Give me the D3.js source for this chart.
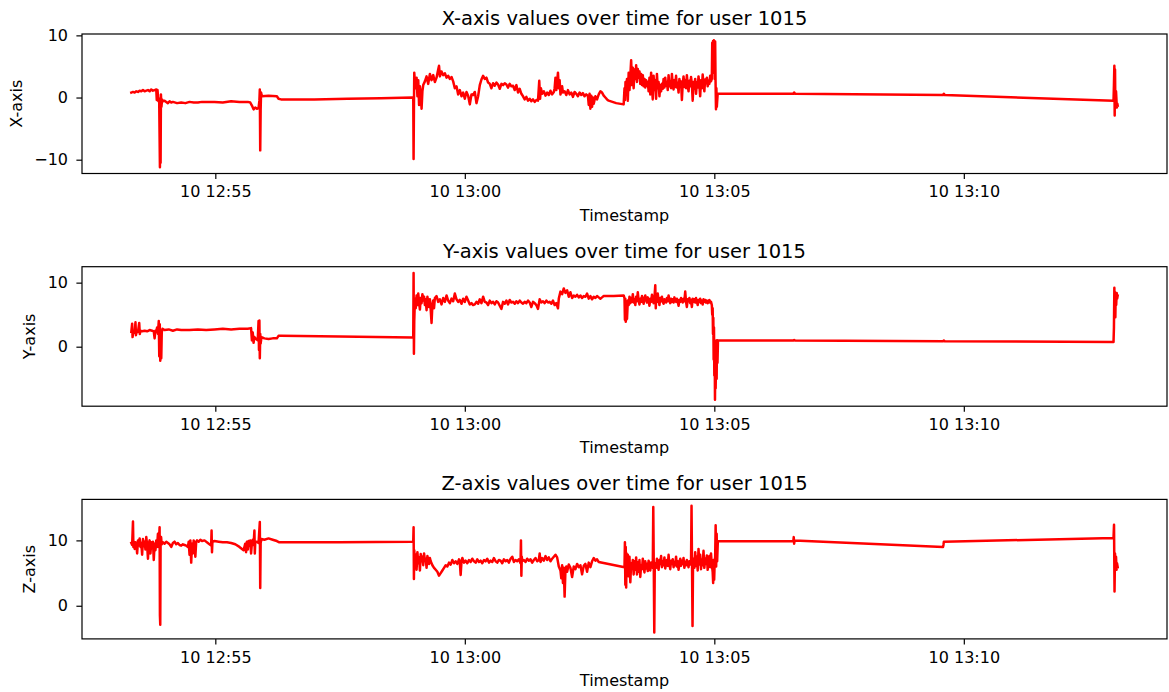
<!DOCTYPE html>
<html>
<head>
<meta charset="utf-8">
<script src="https://cdn.jsdelivr.net/npm/d3@7"></script>
<style>
  body { margin: 0; background: #fff; }
  svg text { font-family: "DejaVu Sans", "Liberation Sans", sans-serif; fill: #000; }
</style>
</head>
<body>
<svg id="chart" width="1169" height="692"></svg>
<script>
// Accelerometer readings for user 1015; each pair is [seconds since recording start, value].
const recordingStart = "2023-03-10 12:53:19";

const xReadings = [
  [0,0.8],[2,0.9],[4,0.8],[6,1.0],[8,0.9],[10,1.1],[12,1.0],[14,1.2],[16,1.0],[18,1.1],[20,1.2],[22,1.0],[24,1.3],[26,1.1],[28,1.2],[30,1.3],
  [30.6,-0.4],[31.5,1.2],[32.5,-0.6],[33.5,-0.2],[34.4,-11.2],[34.8,-3],[35.2,-10.5],[35.6,0.5],[36.2,-1.5],[37,-0.3],[38,-0.6],
  [40,-0.5],[42,-0.7],[44,-0.9],[46,-0.6],[48,-0.8],[50,-0.7],[55,-0.9],[60,-0.8],[65,-0.9],[70,-0.7],[75,-0.8],[80,-0.8],[85,-0.7],
  [90,-0.7],[100,-0.7],[110,-0.8],[120,-0.6],[130,-0.7],[140,-0.7],[143,-0.8],[145,-1.3],[147,-1.9],[149,-1.6],[151,-1.8],[153,-1.7],
  [154,-0.5],[154.5,1.3],[155,-8.5],[155.5,-2],[156,0.8],[157,0.2],[165,0.3],[175,0.2],[177,-0.2],[180,-0.3],[220,-0.3],[260,-0.2],
  [300,-0.1],[338,0],[339,0],[339.4,-9.9],[339.8,-2],[340.2,4.0],[341,2.5],
  [342,1.5],[343,3.2],[344,0.2],[345,2.8],[346,-1.2],[347,1.8],[348,0.5],[349,-1.8],[350,1.0],[351,2.0],
  [353,2.6],[355,3.4],[357,2.2],[359,3.8],[361,2.8],[363,3.6],[365,2.5],[367,3.2],[369,4.5],[370,5.1],
  [371,3.4],[373,4.2],[375,3.6],[377,3.9],[379,3.2],[381,3.5],[383,3.0],[385,3.3],[387,2.6],
  [389,1.5],[391,1.8],[393,0.5],[395,1.2],[397,0.2],[399,0.8],[401,-0.2],[403,0.9],[405,0.3],[407,-1.1],[409,0.5],[411,0.4],[413,0.9],[415,-0.9],[417,0.2],
  [419,2.0],[421,2.9],[423,3.5],[425,3.0],[427,3.2],[429,2.4],
  [431,2.2],[433,1.5],[435,2.3],[437,1.9],[439,2.4],[441,2.1],[443,1.4],[445,2.2],[447,2.0],[449,2.3],[451,2.1],[453,1.6],[455,2.2],[457,1.8],[459,1.9],[461,1.2],[463,2.0],[465,0.8],[467,1.4],
  [469,0.6],[471,0.2],[473,-0.3],[475,0.1],[477,-0.5],[479,-0.2],[481,-0.6],[483,-0.3],[485,-0.7],[487,-0.4],[489,-0.5],
  [490.5,2.7],[491.5,-0.2],[492.5,1.5],
  [494,0.6],[496,1.0],[498,0.3],[500,0.8],[502,0.4],[504,1.1],[506,0.5],[508,0.9],
  [509,1.5],[510,3.2],[511,1.2],[512,2.5],[513,4.0],[514,1.5],[515,2.8],[516,0.5],[518,1.8],[519,0.8],
  [521,1.0],[523,0.4],[525,1.2],[527,0.5],[529,0.8],[531,0.1],[533,0.9],[535,0.6],[537,0.2],[539,0.8],[541,0.4],[543,0.7],[545,0.2],[547,0.5],[549,0.3],
  [550,-1.2],[551,0.6],[552,-1.8],[553,0.3],[554,-1.5],[555,0.0],[556,-1.0],
  [558,0.2],[560,-0.3],[562,0.5],[564,1.0],[566,0.8],[568,0.3],[570,0.0],[572,-0.3],[574,-0.5],
  [583,-0.9],[592,-1.1],
  [593,1.5],[593.6,-0.4],[594.2,2.5],[595,0.5],[596,3.0],[597,-0.5],[598,4.0],[599,1.2],[600,3.5],[601,6.0],[602,2.0],[603,4.8],[604,1.5],
  [605,4.5],[606,3.0],[607,5.2],[608,2.5],[609,4.6],[610,3.2],[611,4.2],[612,2.2],[613,3.8],[614,2.0],[615,3.6],[616,1.8],[617,3.0],[618,1.6],[619,2.8],[620,1.9],[621,2.5],
  [622,1.0],[623,3.2],[624,0.5],[625,4.0],[626,1.5],[627,-0.3],[628,3.5],[629,1.2],[630,2.8],[631,-0.2],[632,3.8],[633,1.5],[634,2.5],[635,0.2],[636,2.0],[637,1.0],[638,2.2],[639,1.4],[640,3.0],
  [641,1.6],[642,3.2],[643,1.9],[644,2.5],[645,1.2],[646,3.6],[647,1.8],[648,2.6],[649,1.5],[650,3.8],[651,2.0],[652,1.3],[653,2.8],[654,1.7],[655,3.5],[656,1.6],[657,2.4],[658,0.8],[659,3.0],[660,1.9],
  [661,2.6],[662,-0.4],[663,2.2],[664,3.4],[665,1.7],[666,2.8],[667,1.5],[668,3.6],[669,2.0],[670,1.0],[671,2.7],[672,1.8],[673,3.3],[674,2.2],[675,-0.5],[676,2.5],[677,1.4],[678,3.0],[679,0.6],[680,2.4],
  [681,1.6],[682,3.4],[683,2.0],[684,0.2],[685,2.8],[686,1.5],[687,3.7],[688,2.1],[689,1.0],[690,2.9],[691,2.3],[692,3.2],[693,1.8],[694,2.7],[695,2.2],[696,3.5],[697,2.6],
  [698,3.0],[698.5,8.8],[699,4],[699.5,9.1],[700,6],[700.5,9.2],[701,8.8],[701.5,3],[702,9.0],[702.5,2.5],[703,-1.9],[703.5,1.5],[704,-1.5],[705,0.6],
  [705.6,0.6],[796,0.6],[797,0.8],[798,0.6],[976,0.4],[977,0.6],[978,0.4],[1181,-0.5],
  [1181.5,2.0],[1182,5.1],[1182.4,-2.9],[1182.8,4.5],[1183.2,-1.5],[1184,1.0],[1185,-1.6],[1185.6,-1.0],[1186,-1.3]
];

const yReadings = [
  [0,2.3],[1,3.6],[1.5,1.5],[2.5,2.4],[4,2.2],[5,3.8],[5.6,1.8],[6.5,2.5],[8,2.3],[9.5,3.7],[10.2,2.0],[11,2.5],[13,2.4],[16,2.5],[19,2.4],
  [22,2.6],[25,2.5],[27,2.4],[28,1.3],[29,2.5],[30,2.4],[31,3.0],[32,2.0],[33,4.0],[33.6,-1.5],[34.2,3.5],[34.8,-2.2],[35.4,2.0],[36,-1.8],
  [36.6,2.2],[37.5,2.8],[40,2.6],[45,2.7],[50,2.5],[55,2.7],[60,2.6],[70,2.6],[80,2.7],[90,2.6],[100,2.7],[110,2.8],[120,2.7],[130,2.8],
  [140,2.8],[144,2.9],[145,1.0],[146,2.2],[147,0.6],[148,1.5],[150,1.2],[152,1.0],[153,4.0],[153.5,-0.5],[154,4.1],[154.5,-1.8],[155,2.0],
  [155.5,0.5],[156.5,1.5],[160,1.3],[165,1.2],[170,1.3],[175,1.3],[177,1.7],[180,1.7],[250,1.6],[338,1.45],
  [339,1.5],[339.4,11.5],[339.8,-1.1],[340.2,4.0],[341,7.5],
  [342,6.0],[343,8.0],[344,6.5],[345,8.3],[346,7.0],[347,5.8],[348,7.6],[349,6.8],[350,8.2],[351,7.2],[352,7.8],[353,6.5],[354,7.4],[355,5.7],
  [356,7.8],[357,7.0],[358,6.2],[359,7.4],[360,5.8],[361,3.7],[362,6.5],[363,7.2],[364,6.0],[365,7.6],
  [367,7.9],[369,7.0],[371,7.4],[373,6.6],[375,7.6],[377,7.0],[379,8.0],[381,7.2],[383,6.8],[385,7.5],[387,7.1],[389,8.3],[391,7.4],[393,7.0],
  [395,7.3],[397,6.7],[399,7.5],[401,7.0],[403,7.8],[405,7.2],[407,6.6],[409,6.8],[411,6.5],[413,6.6],[415,7.0],[417,6.7],[419,7.4],[421,6.8],
  [423,7.8],[425,7.0],[427,6.9],[429,6.5],[431,7.2],[433,6.8],[435,7.0],[437,6.6],[439,7.1],[441,6.9],[443,6.4],[445,5.9],[447,7.0],[449,6.7],
  [451,7.2],[453,6.6],[455,7.3],[457,6.9],[459,7.0],[461,6.7],[463,7.1],[465,6.8],[467,7.2],[469,6.9],[471,6.7],[473,7.0],[475,6.8],[477,7.2],
  [479,6.9],[481,6.2],[483,7.0],[485,6.8],[487,6.5],[489,5.9],[491,7.4],
  [493,6.9],[495,7.1],[497,6.8],[499,7.2],[501,6.9],[503,7.0],[505,6.7],[507,7.2],[509,6.5],[511,6.8],[513,6.0],[514,7.5],[516,8.6],[518,8.2],
  [520,9.1],[522,8.4],[524,8.8],[526,7.8],[528,8.5],[530,7.6],[532,8.0],[534,7.8],[536,8.1],[538,7.7],[540,8.0],[542,7.6],[544,7.9],[546,7.8],
  [548,8.3],[550,7.5],[552,7.9],[554,7.4],[556,7.8],[558,7.6],[560,7.9],[562,7.7],[564,7.5],[566,7.7],[568,7.9],[580,7.9],[592,8.0],
  [593,7.6],[593.5,4.2],[594,7.5],[594.5,3.9],[595,6.8],[596,4.3],[597,7.2],[598,6.5],[599,7.8],
  [600,6.8],[601,7.6],[602,7.0],[603,8.2],[604,6.9],[605,7.4],[606,6.5],[607,7.8],[608,7.1],[609,8.5],[610,7.2],[611,6.6],[612,7.5],[613,7.0],
  [614,7.9],[615,7.2],[616,6.7],[617,7.6],[618,8.0],[619,7.3],[620,6.9],[621,7.7],[622,7.2],[623,6.4],[624,7.5],[625,7.0],[626,8.1],[627,7.3],
  [628,6.8],[629,7.6],[630,9.6],[630.6,6.0],[631,7.4],[632,7.0],[633,8.3],[634,7.2],[635,6.5],[636,7.6],[637,7.1],[638,7.8],[639,7.0],[640,6.7],
  [641,7.4],[642,7.2],[643,6.9],[644,7.6],[645,7.1],[646,8.0],[647,7.3],[648,6.8],[649,7.5],[650,7.0],[651,7.4],[652,6.9],[653,7.7],[654,7.2],
  [655,7.0],[656,7.5],[657,7.1],[658,6.4],[659,7.3],[660,7.0],[661,7.6],[662,7.2],[663,6.9],[664,7.5],[665,7.1],[666,8.6],[667,7.0],[668,6.2],
  [669,7.4],[670,7.1],[671,7.6],[672,6.8],[673,7.3],[674,6.2],[675,7.5],[676,7.0],[677,7.4],[678,6.9],[679,7.6],[680,7.1],[681,6.5],[682,7.3],
  [683,7.0],[684,7.5],[685,6.8],[686,7.2],[687,6.6],[688,7.4],[689,7.0],[690,7.3],[691,6.9],[692,7.2],[693,6.8],[694,7.1],[695,7.3],[696,6.9],
  [697,7.0],[698,6.5],[698.5,5.0],[699,6.0],[699.4,2.0],[699.8,4.5],[700.2,-2.0],[700.6,3.0],[701,-4.5],[701.4,1.0],[701.8,-8.3],[702.2,-1.0],
  [702.6,-6.5],[703,-3.0],[703.4,0.5],[703.8,-5.0],[704.2,1.0],[704.8,-2.5],[705.4,0.95],
  [706,0.95],[796,0.95],[797,1.05],[798,0.95],[976,0.85],[977,0.95],[978,0.85],[1181,0.73],
  [1181.5,3.0],[1182,9.2],[1182.4,5.0],[1182.8,8.5],[1183.2,4.6],[1183.6,8.3],[1184.2,6.5],[1184.8,8.4],[1185.4,7.5],[1186,8.0]
];

const zReadings = [
  [0,9.6],[1,9.3],[2,12.9],[2.5,9.0],[3,9.8],[4,8.7],[5,9.7],[6,9.4],[7,8.0],[8,10.0],[9,9.2],[10,10.3],[11,9.0],[12,9.6],[13,7.8],[14,10.2],
  [15,9.1],[16,9.8],[17,8.6],[18,10.5],[19,9.3],[20,7.2],[21,9.5],[22,10.0],[23,8.0],[24,9.7],[25,9.2],[26,9.8],[27,7.0],[28,9.5],[29,8.5],
  [30,10.0],[31,9.0],[32,11.0],[33,9.0],[34,12.0],[34.4,-1.5],[34.8,-2.9],[35.2,9.5],[35.8,10.5],[36.5,9.4],[38,9.7],[40,9.5],[42,9.8],
  [44,9.6],[46,9.4],[48,9.0],[50,9.6],[52,9.8],[54,9.4],[56,9.6],[58,9.3],[60,9.2],[62,9.4],[64,9.3],[66,9.2],[68,9.0],[69,9.8],[70,7.8],
  [71,10.0],[72,6.6],[73,9.5],[74,8.0],[75,10.0],[76,9.4],[77,7.5],[78,9.8],[79,10.0],[81,9.8],[83,10.1],[85,9.9],[88,10.0],[92,9.6],
  [96,9.2],[96.5,11.5],[97,8.2],[97.5,9.8],[100,9.9],[105,9.8],[110,9.7],[115,9.7],[120,9.6],[125,9.4],[130,9.0],[135,8.5],
  [137,9.5],[138,8.2],[139,9.8],[140,8.6],[141,9.9],[142,9.2],[143,10.0],[144,8.0],[145,9.6],[146,10.1],[147,9.3],[148,11.5],[148.5,8.0],
  [149,9.7],[151,9.8],[153,9.6],[154.5,12.8],[155,2.7],[155.5,9.6],[156.5,10.2],[160,10.1],[165,10.3],[170,10.1],[175,9.9],[178,9.7],
  [250,9.7],[338,9.8],[339,9.8],[339.4,12.0],[339.8,4.1],[340.2,8.5],[341,6.0],
  [342,7.8],[343,5.5],[344,8.2],[345,6.5],[346,7.4],[347,5.4],[348,7.9],[349,6.8],[350,7.5],[351,6.2],[352,8.0],[353,6.9],[354,7.2],[355,5.8],
  [356,7.6],[357,7.0],[358,6.4],[359,7.3],[360,6.8],[362,6.2],[364,5.8],[366,5.5],[368,5.2],[370,4.6],[372,5.0],[374,5.4],
  [376,5.8],[378,6.2],[380,6.0],[382,6.6],[384,6.3],[386,7.0],[388,6.5],[390,6.8],[392,6.4],[394,7.1],[395,6.6],[396,4.7],[397,6.8],[398,7.3],
  [400,6.6],[402,6.9],[404,6.5],[406,7.0],[408,6.7],[410,7.2],[412,6.8],[414,6.6],[416,7.1],[418,6.7],[420,6.9],[422,6.5],[424,7.0],[426,6.8],
  [428,7.2],[430,6.6],[432,6.9],[434,6.7],[436,7.3],[438,6.8],[440,6.6],[442,7.0],[444,6.9],[446,6.5],[448,7.1],[450,6.8],[452,7.0],[454,6.6],
  [456,7.2],[458,7.5],[460,6.7],[462,7.0],[464,6.8],[466,7.1],[468,6.5],[468.5,10.0],[469,4.6],[469.5,7.5],[470,6.8],
  [472,7.0],[474,6.7],[476,7.2],[478,6.9],[480,7.1],[482,6.6],[484,7.0],[486,7.3],[488,6.8],[490,7.0],
  [491,8.0],[492,6.7],[494,7.3],[496,6.9],[498,7.6],[500,7.0],[502,7.4],[504,6.8],[506,7.2],[508,7.5],[510,7.8],[512,7.4],
  [514,6.0],[516,5.4],[517,4.2],[518,6.2],[519,3.5],[520,5.8],[521,1.4],[522,5.5],[523,6.0],
  [524,5.2],[526,6.3],[528,5.8],[530,4.4],[532,6.0],[534,5.6],[536,6.4],[538,5.9],[540,6.2],[542,4.8],[544,6.1],[546,6.4],[548,5.2],[550,6.6],
  [552,5.9],[554,6.8],[556,7.3],[558,6.9],[560,7.1],[562,6.7],[593,5.9],
  [593.5,9.7],[594,3.2],[594.5,9.0],[595,2.8],[595.5,8.0],[596,5.0],[597,7.8],[598,4.5],[599,7.5],[600,3.6],[601,6.5],[602,5.8],[603,7.0],[604,4.8],
  [605,6.8],[606,5.5],[607,7.4],[608,4.8],[609,6.6],[610,5.2],[611,7.0],[612,4.4],[613,6.2],[614,5.6],[615,7.2],[616,6.0],[617,5.1],[618,6.8],
  [619,5.7],[620,6.4],[621,5.3],[622,6.9],[623,6.1],[624,5.4],[625,6.6],[626,6.0],[627,5.8],
  [627.6,15.1],[628.2,6.0],[628.8,-4.1],[629.4,6.2],
  [630,6.5],[631,5.8],[632,7.2],[633,6.2],[634,5.5],[635,7.0],[636,6.4],[637,7.6],[638,5.9],[639,6.8],[640,6.2],[641,7.4],[642,5.7],[643,6.6],
  [644,7.0],[645,6.1],[646,7.8],[647,6.3],[648,5.6],[649,6.9],[650,6.4],[651,7.1],[652,5.9],[653,6.7],[654,6.2],[655,7.5],[656,6.0],[657,6.8],
  [658,5.5],[659,6.6],[660,7.2],[661,6.1],[662,6.9],[663,6.4],[664,7.3],[665,5.8],[666,6.7],[667,6.2],[668,7.0],[669,6.5],[670,5.9],[671,6.8],
  [672,6.3],[673,6.6],[673.6,15.3],[674.2,6.0],[674.8,-3.1],[675.4,6.5],
  [676,7.2],[677,5.8],[678,8.2],[679,6.1],[680,7.5],[681,5.4],[682,8.7],[683,6.3],[684,7.8],[685,5.6],[686,7.0],[687,6.2],[688,8.4],[689,5.8],
  [690,7.2],[691,6.4],[692,7.7],[693,5.5],[694,6.8],[695,7.6],[696,5.9],[697,8.0],[698,6.3],[699,5.2],[699.6,3.5],[700.2,7.0],[700.8,4.0],
  [701.4,6.5],[702,7.5],[702.6,12.3],[703.2,6.0],[703.8,11.0],[704.4,6.8],[705.2,9.85],
  [706,9.85],[796,9.9],[796.5,10.5],[797,9.5],[797.5,10.0],[976,9.0],[976.5,9.3],[977,9.8],[1181,10.35],
  [1181.6,12.4],[1182.2,2.2],[1182.8,8.0],[1183.4,5.5],[1184,7.5],[1184.6,5.5],[1185.2,6.5],[1186,5.9]
];

const panelTitles = [
  "X-axis values over time for user 1015",
  "Y-axis values over time for user 1015",
  "Z-axis values over time for user 1015"
];
const axisNames = ["X-axis", "Y-axis", "Z-axis"];
const yTickValues = [[-10, 0, 10], [0, 10], [0, 10]];
const timeAxisLabel = "Timestamp";
const timeTickFormat = "%d %H:%M";

const series = [xReadings, yReadings, zReadings];

// ---- layout ----
const svg = d3.select("#chart");
const plotLeft = 82, plotWidth = 1085, plotHeight = 139.5;
const panelTops = [34, 266.7, 499.4];
const lineColor = "#ff0000";

const start = d3.timeParse("%Y-%m-%d %H:%M:%S")(recordingStart);
const toDate = s => new Date(start.getTime() + s * 1000);

// shared time domain with 5% padding on each side
const allSeconds = series.flat().map(d => d[0]);
const tMin = d3.min(allSeconds), tMax = d3.max(allSeconds);
const tPad = (tMax - tMin) * 0.05;
const xScale = d3.scaleTime()
  .domain([toDate(tMin - tPad), toDate(tMax + tPad)])
  .range([0, plotWidth]);

series.forEach((data, i) => {
  const g = svg.append("g").attr("transform", `translate(${plotLeft},${panelTops[i]})`);

  // value domain padded by 5% of the data range
  const vMin = d3.min(data, d => d[1]), vMax = d3.max(data, d => d[1]);
  const vPad = (vMax - vMin) * 0.05;
  const yScale = d3.scaleLinear().domain([vMin - vPad, vMax + vPad]).range([plotHeight, 0]);

  const line = d3.line()
    .x(d => xScale(toDate(d[0])))
    .y(d => yScale(d[1]));

  g.append("path")
    .datum(data)
    .attr("d", line)
    .attr("fill", "none")
    .attr("stroke", lineColor)
    .attr("stroke-width", 2.5)
    .attr("stroke-linejoin", "round")
    .attr("stroke-linecap", "square");

  // bottom time axis
  const xAxis = g.append("g")
    .attr("transform", `translate(0,${plotHeight})`)
    .call(d3.axisBottom(xScale)
      .ticks(d3.timeMinute.every(5))
      .tickFormat(d3.timeFormat(timeTickFormat))
      .tickSize(5.6).tickSizeOuter(0).tickPadding(7));
  xAxis.select(".domain").remove();
  xAxis.selectAll("line").attr("stroke", "#000").attr("stroke-width", 1.2);
  xAxis.selectAll("text").attr("font-size", 16).attr("font-family", "DejaVu Sans").attr("fill", "#000");

  // left value axis
  const yAxis = g.append("g")
    .call(d3.axisLeft(yScale)
      .tickValues(yTickValues[i])
      .tickFormat(d3.format("d"))
      .tickSize(5.6).tickSizeOuter(0).tickPadding(8.4));
  yAxis.select(".domain").remove();
  yAxis.selectAll("line").attr("stroke", "#000").attr("stroke-width", 1.2);
  yAxis.selectAll("text").attr("font-size", 16).attr("font-family", "DejaVu Sans").attr("fill", "#000");

  // frame
  g.append("rect")
    .attr("width", plotWidth).attr("height", plotHeight)
    .attr("fill", "none").attr("stroke", "#000").attr("stroke-width", 1.2);

  // title
  g.append("text")
    .attr("x", plotWidth / 2).attr("y", -9)
    .attr("text-anchor", "middle")
    .attr("font-size", 19.5)
    .text(panelTitles[i]);

  // x label
  g.append("text")
    .attr("x", plotWidth / 2).attr("y", plotHeight + 47)
    .attr("text-anchor", "middle")
    .attr("font-size", 16)
    .text(timeAxisLabel);

  // y label, placed just left of the widest tick label
  const tickLefts = [];
  yAxis.selectAll("text").each(function() { tickLefts.push(this.getBBox().x); });
  const labelX = d3.min(tickLefts) - 12.5;
  g.append("text")
    .attr("transform", `translate(${labelX},${plotHeight / 2}) rotate(-90)`)
    .attr("text-anchor", "middle")
    .attr("font-size", 16)
    .text(axisNames[i]);
});
</script>
</body>
</html>
